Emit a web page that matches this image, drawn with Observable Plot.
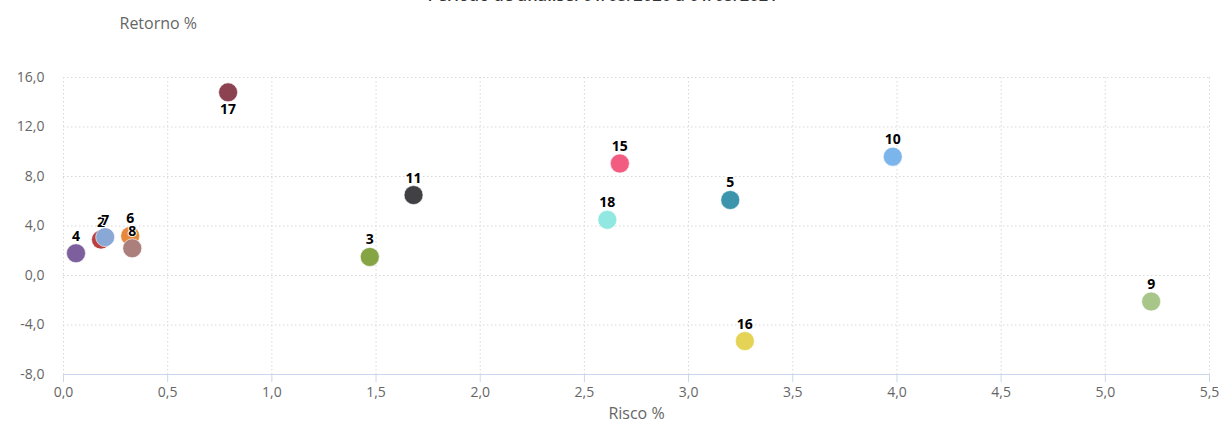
<!DOCTYPE html>
<html>
<head>
<meta charset="utf-8">
<script src="https://cdn.jsdelivr.net/npm/d3@7"></script>
<script src="https://cdn.jsdelivr.net/npm/@observablehq/plot@0.6"></script>
<style>
  html, body { margin: 0; padding: 0; background: #fff; }
  #chart { width: 1227px; height: 430px; overflow: hidden; }
</style>
</head>
<body>
<div id="chart"></div>
<script>
const names   = ["13", "17", "4", "2", "7", "6", "8", "3", "11", "18", "15", "5", "16", "10", "9"];
const risco   = [2.67, 0.79, 0.06, 0.18, 0.20, 0.32, 0.33, 1.47, 1.68, 2.61, 2.67, 3.20, 3.27, 3.98, 5.22];
const retorno = [9.05, 14.8, 1.8, 2.9, 3.1, 3.2, 2.2, 1.5, 6.5, 4.5, 9.05, 6.1, -5.3, 9.6, -2.1];
const colors  = ["#e8607f", "#8d4252", "#7d5f9e", "#b8403e", "#8aa8d6", "#e6893a", "#ab7f7c", "#85a544", "#404045", "#91e8e1", "#f15c80", "#3c95ad", "#e4d354", "#7cb5ec", "#a8c68a"];
const labelBelow = ["17"];
const xTicks = [0, 0.5, 1, 1.5, 2, 2.5, 3, 3.5, 4, 4.5, 5, 5.5];
const yTicks = [-8, -4, 0, 4, 8, 12, 16];
const titleText = "Período de análise: 01/05/2020 a 01/05/2021";

const data = names.map((n, i) => ({name: n, x: risco[i], y: retorno[i], color: colors[i], below: labelBelow.includes(n)}));
const fmt = d => d.toFixed(1).replace(".", ",");

const chart = Plot.plot({
  width: 1227,
  height: 430,
  marginTop: 77,
  marginBottom: 56,
  marginLeft: 63,
  marginRight: 18,
  style: {fontFamily: "'Open Sans', sans-serif", fontSize: "14px", color: "#666", background: "#fff", overflow: "visible"},
  x: {domain: [0, 5.5], ticks: xTicks},
  y: {domain: [-8, 16], ticks: yTicks},
  marks: [
    Plot.gridX(xTicks, {stroke: "#d8d8d8", strokeOpacity: 1, strokeDasharray: "1.5,2.5"}),
    Plot.gridY(yTicks, {stroke: "#d8d8d8", strokeOpacity: 1, strokeDasharray: "1.5,2.5"}),
    Plot.ruleY([-8], {stroke: "#ccd6eb", strokeWidth: 1}),
    Plot.axisX(xTicks, {tickFormat: fmt, tickSize: 8, tickPadding: 5, stroke: "#ccd6eb", fill: "#666", label: null, fontSize: 14}),
    Plot.axisY(yTicks, {tickFormat: fmt, tickSize: 0, tickPadding: 19, fill: "#666", label: null, fontSize: 14}),
    Plot.dot(data, {x: "x", y: "y", r: 9.5, fill: "color", stroke: "#fff", strokeWidth: 0.6}),
    Plot.text(data, {x: "x", y: "y", text: "name", fontWeight: "bold", fontSize: 14, fill: "#000",
      stroke: "#fff", strokeWidth: 2, paintOrder: "stroke",
      filter: d => !d.below, dy: -17}),
    Plot.text(data, {x: "x", y: "y", text: "name", fontWeight: "bold", fontSize: 14, fill: "#000",
      stroke: "#fff", strokeWidth: 2, paintOrder: "stroke",
      filter: d => d.below, dy: 17}),
    Plot.text(["Risco %"], {frameAnchor: "bottom", dy: 44, text: d => d, fill: "#666", fontSize: 16}),
    Plot.text(["Retorno %"], {frameAnchor: "top-left", dx: 56, dy: -60, text: d => d, fill: "#666", fontSize: 16}),
    Plot.text([titleText], {frameAnchor: "top", dx: -34, dy: -77, text: d => d, fill: "#333", fontSize: 16.5, fontWeight: 600, lineAnchor: "bottom"})
  ]
});
document.getElementById("chart").appendChild(chart);
</script>
</body>
</html>
